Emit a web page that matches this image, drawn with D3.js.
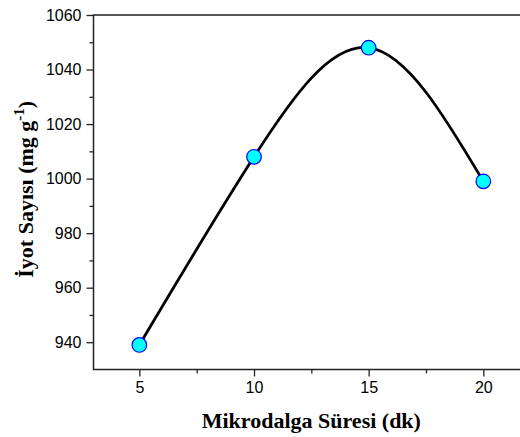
<!DOCTYPE html>
<html>
<head>
<meta charset="utf-8">
<script src="https://cdn.jsdelivr.net/npm/d3@7"></script>
<style>
  body { margin: 0; background: #fff; }
  svg { display: block; }
</style>
</head>
<body>
<div class="chart"></div>
<script>
var width = 520,
    height = 437;

// data
var times = [5, 10, 15, 20];            // Mikrodalga Süresi (dk)
var iodine = [939, 1008, 1048, 999];    // İyot Sayısı (mg g-1)
var xTicks = [5, 10, 15, 20];
var yTicks = [940, 960, 980, 1000, 1020, 1040, 1060];

var margin = {top: 15, left: 93.5, bottom: 67.5};

var svg = d3.select(".chart")
  .append("svg")
    .attr("width", width)
    .attr("height", height);

// x axis runs past the right edge of the picture (3..22)
var x = d3.scaleLinear()
  .domain([3, 22])
  .range([margin.left, margin.left + 19 * 22.93]);

var y = d3.scaleLinear()
  .domain([930, 1060])
  .range([height - margin.bottom, margin.top]);

// frame (top + left + bottom; right side is outside the picture)
svg.append("rect")
  .attr("x", x(3))
  .attr("y", y(1060))
  .attr("width", x(22) - x(3))
  .attr("height", y(930) - y(1060))
  .attr("fill", "none")
  .attr("stroke", "#222")
  .attr("stroke-width", 1.5);

// minor ticks
var xMinor = [7.5, 12.5, 17.5];
var yMinor = [950, 970, 990, 1010, 1030, 1050];

svg.append("g")
  .attr("transform", "translate(0," + y(930) + ")")
  .call(d3.axisBottom(x).tickValues(xMinor).tickSize(4).tickFormat(""))
  .call(g => g.select(".domain").remove())
  .selectAll("line").attr("stroke", "#222").attr("stroke-width", 1.3);

svg.append("g")
  .attr("transform", "translate(" + x(3) + ",0)")
  .call(d3.axisLeft(y).tickValues(yMinor).tickSize(4).tickFormat(""))
  .call(g => g.select(".domain").remove())
  .selectAll("line").attr("stroke", "#222").attr("stroke-width", 1.3);

// major ticks + labels
var xAxis = svg.append("g")
  .attr("transform", "translate(0," + y(930) + ")")
  .call(d3.axisBottom(x).tickValues(xTicks).tickSize(7).tickPadding(5).tickFormat(d3.format("d")));
xAxis.select(".domain").remove();

var yAxis = svg.append("g")
  .attr("transform", "translate(" + x(3) + ",0)")
  .call(d3.axisLeft(y).tickValues(yTicks).tickSize(7).tickPadding(5).tickFormat(d3.format("d")));
yAxis.select(".domain").remove();

svg.selectAll(".tick line").attr("stroke", "#222").attr("stroke-width", 1.3);
svg.selectAll(".tick text")
  .attr("fill", "#000")
  .style("font-family", "'Liberation Sans', Arial, sans-serif")
  .style("font-size", "16px");

// smooth line through the points
var points = times.map((t, i) => ({t: t, v: iodine[i]}));

var line = d3.line()
  .x(d => x(d.t))
  .y(d => y(d.v))
  .curve(d3.curveNatural);

svg.append("path")
  .datum(points)
  .attr("d", line)
  .attr("fill", "none")
  .attr("stroke", "#000")
  .attr("stroke-width", 2.8);

svg.selectAll("circle.pt")
  .data(points)
  .enter()
  .append("circle")
  .attr("class", "pt")
  .attr("cx", d => x(d.t))
  .attr("cy", d => y(d.v))
  .attr("r", 7.3)
  .attr("fill", "#00FFFF")
  .attr("stroke", "#0000FF")
  .attr("stroke-width", 1.2);

// axis titles
var titleFont = "'Liberation Serif', 'Times New Roman', serif";

svg.append("text")
  .attr("x", x(12.5))
  .attr("y", 428)
  .attr("text-anchor", "middle")
  .style("font-family", titleFont)
  .style("font-weight", "bold")
  .style("font-size", "22px")
  .text("Mikrodalga Süresi (dk)");

var yMid = (y(930) + y(1060)) / 2 - 3;

var yTitle = svg.append("text")
  .attr("transform", "translate(33," + yMid + ") rotate(-90)")
  .attr("text-anchor", "middle")
  .style("font-family", titleFont)
  .style("font-weight", "bold")
  .style("font-size", "22px");

yTitle.append("tspan").text("İyot Sayısı (mg g");
yTitle.append("tspan").attr("dy", -9).style("font-size", "15px").text("-1");
yTitle.append("tspan").attr("dy", 9).text(")");
</script>
</body>
</html>
